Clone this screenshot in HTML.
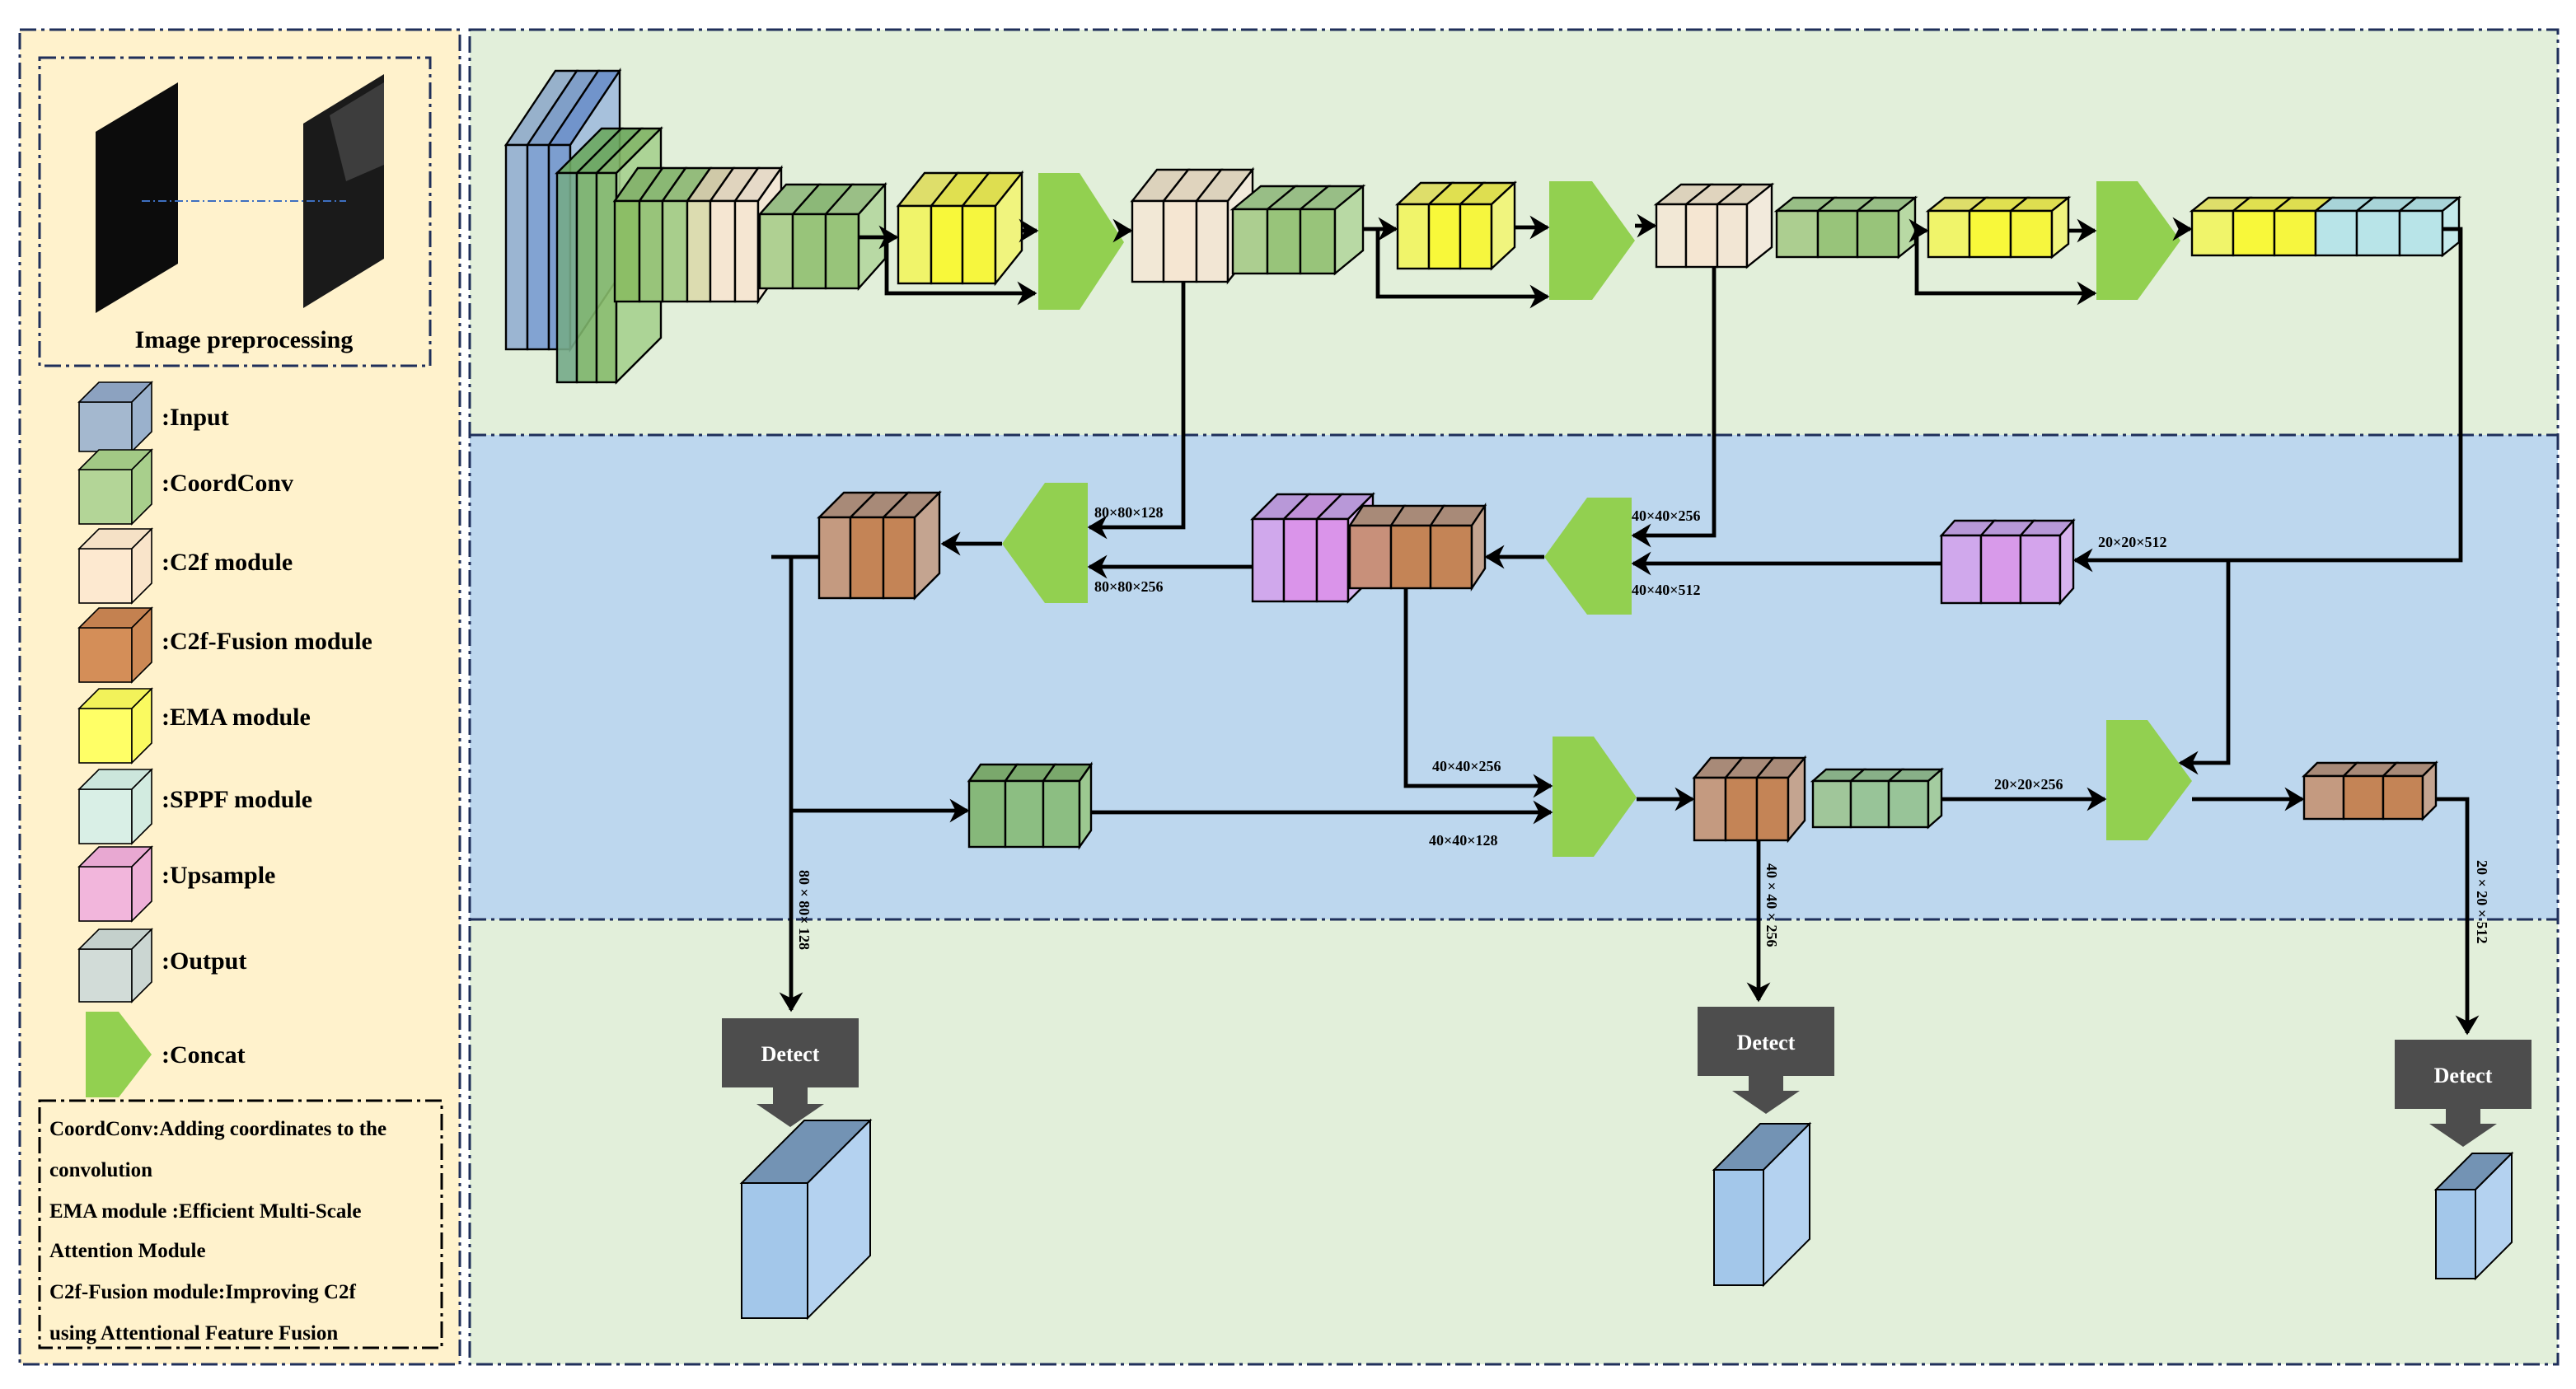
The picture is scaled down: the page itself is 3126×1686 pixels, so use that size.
<!DOCTYPE html>
<html><head><meta charset="utf-8"><style>html,body{margin:0;padding:0;background:#fff}svg{display:block}</style></head>
<body>
<svg width="3126" height="1686" viewBox="0 0 1563 843" xmlns="http://www.w3.org/2000/svg" font-family="'Liberation Serif',serif" font-weight="bold">
<defs>
<marker id="ar" markerWidth="6" markerHeight="6" refX="4.5" refY="3" orient="auto" markerUnits="strokeWidth"><path d="M0,0 L5,3 L0,6 L1.5,3 Z" fill="#000"/></marker>
</defs>
<rect width="1563" height="843" fill="#fff"/>
<!-- left panel -->
<rect x="12" y="18" width="267" height="810" fill="#fff2cc" stroke="#1f2f5a" stroke-width="1.5" stroke-dasharray="10,3,2,3"/>
<rect x="24" y="35" width="237" height="187" fill="#fff2cc" stroke="#1f2f5a" stroke-width="1.5" stroke-dasharray="10,3,2,3"/>
<polygon points="58,80 108,50 108,160 58,190" fill="#0c0c0c"/>
<polygon points="184,75 233,45 233,157 184,187" fill="#1a1a1a"/>
<polygon points="200,70 233,50 233,100 210,110" fill="#555" opacity="0.6"/>
<line x1="86" y1="122" x2="210" y2="122" stroke="#3d6fc0" stroke-width="1" stroke-dasharray="5,2,1,2"/>
<text x="148" y="211" font-size="15" text-anchor="middle">Image preprocessing</text>
<g stroke="#000" stroke-width="0.8">
<g><rect x="48" y="244" width="32" height="30" fill="#a4b8cf"/><polygon points="48,244 60,232 92,232 80,244" fill="#8ca2c0"/><polygon points="80,244 92,232 92,262 80,274" fill="#9ab1cc"/></g>
<g><rect x="48" y="285" width="32" height="33" fill="#b3d597"/><polygon points="48,285 60,273 92,273 80,285" fill="#a2c985"/><polygon points="80,285 92,273 92,306 80,318" fill="#a8cf8c"/></g>
<g><rect x="48" y="333" width="32" height="33" fill="#fde9d0"/><polygon points="48,333 60,321 92,321 80,333" fill="#f5e1c6"/><polygon points="80,333 92,321 92,354 80,366" fill="#f9e4ca"/></g>
<g><rect x="48" y="381" width="32" height="33" fill="#d48e58"/><polygon points="48,381 60,369 92,369 80,381" fill="#c48150"/><polygon points="80,381 92,369 92,402 80,414" fill="#cc8854"/></g>
<g><rect x="48" y="430" width="32" height="33" fill="#ffff66"/><polygon points="48,430 60,418 92,418 80,430" fill="#f2f25a"/><polygon points="80,430 92,418 92,451 80,463" fill="#fafa60"/></g>
<g><rect x="48" y="479" width="32" height="33" fill="#d9efe6"/><polygon points="48,479 60,467 92,467 80,479" fill="#cce6dc"/><polygon points="80,479 92,467 92,500 80,512" fill="#d2ebe0"/></g>
<g><rect x="48" y="526" width="32" height="33" fill="#f2b6dc"/><polygon points="48,526 60,514 92,514 80,526" fill="#e8a8d2"/><polygon points="80,526 92,514 92,547 80,559" fill="#eeb0d8"/></g>
<g><rect x="48" y="576" width="32" height="32" fill="#d2dcd8"/><polygon points="48,576 60,564 92,564 80,576" fill="#c4d0cc"/><polygon points="80,576 92,564 92,596 80,608" fill="#cbd6d2"/></g>
</g>
<polygon points="52,614 72,614 92,640 72,666 52,666" fill="#92d050"/>
<g font-size="15"><text x="98" y="258">:Input</text><text x="98" y="298">:CoordConv</text><text x="98" y="346">:C2f module</text><text x="98" y="394">:C2f-Fusion module</text><text x="98" y="440">:EMA module</text><text x="98" y="490">:SPPF module</text><text x="98" y="536">:Upsample</text><text x="98" y="588">:Output</text><text x="98" y="645">:Concat</text></g>
<rect x="24" y="668" width="244" height="150" fill="none" stroke="#000" stroke-width="1.5" stroke-dasharray="10,3,2,3"/>
<g font-size="12.5"><text x="30" y="689">CoordConv:Adding coordinates to the</text><text x="30" y="714">convolution</text><text x="30" y="739">EMA module :Efficient Multi-Scale</text><text x="30" y="763">Attention Module</text><text x="30" y="788">C2f-Fusion module:Improving C2f</text><text x="30" y="813">using Attentional Feature Fusion</text></g>
<!-- right panel -->
<rect x="285" y="18" width="1267" height="246" fill="#e2efda"/>
<rect x="285" y="264" width="1267" height="294" fill="#bdd7ee"/>
<rect x="285" y="558" width="1267" height="270" fill="#e2efda"/>
<line x1="285" y1="264" x2="1552" y2="264" stroke="#1f2f5a" stroke-width="1.5" stroke-dasharray="10,3,2,3"/>
<line x1="285" y1="558" x2="1552" y2="558" stroke="#1f2f5a" stroke-width="1.5" stroke-dasharray="10,3,2,3"/>
<rect x="285" y="18" width="1267" height="810" fill="none" stroke="#1f2f5a" stroke-width="1.5" stroke-dasharray="10,3,2,3"/>

<g stroke="#000" stroke-width="1.2">
<!-- blue input -->
<g fill-opacity="0.85">
<polygon points="307,88 337,43 350,43 320,88" fill="#8aa6c8"/><polygon points="320,88 350,43 363,43 333,88" fill="#6f90c4"/><polygon points="333,88 363,43 376,43 346,88" fill="#5d84c8"/>
<rect x="307" y="88" width="13" height="124" fill="#8eaad0"/><rect x="320" y="88" width="13" height="124" fill="#7195d0"/><rect x="333" y="88" width="13" height="124" fill="#6a8fcc"/>
<polygon points="346,88 376,43 376,167 346,212" fill="#9cb8dc"/>
</g>
<!-- green 2 -->
<g fill-opacity="0.9">
<polygon points="338,105 365,78 377,78 350,105" fill="#6da860"/><polygon points="350,105 377,78 389,78 362,105" fill="#6aa65a"/><polygon points="362,105 389,78 401,78 374,105" fill="#7eb262"/>
<rect x="338" y="105" width="12" height="127" fill="#75aa88"/><rect x="350" y="105" width="12" height="127" fill="#7db46a"/><rect x="362" y="105" width="12" height="127" fill="#86ba6a"/>
<polygon points="374,105 401,78 401,205 374,232" fill="#a6d08e"/>
</g>
<!-- block 3 -->
<polygon points="373,122 387,102 402,102 388,122" fill="#86b46e"/><polygon points="388,122 402,102 416,102 402,122" fill="#8ab874"/><polygon points="402,122 416,102 431,102 417,122" fill="#94bc7c"/>
<polygon points="417,122 431,102 445,102 431,122" fill="#cfc9a8"/><polygon points="431,122 445,102 460,102 446,122" fill="#e0d4be"/><polygon points="446,122 460,102 474,102 460,122" fill="#e6dac8"/>
<rect x="373" y="122" width="15" height="61" fill="#8cbe66"/><rect x="388" y="122" width="14" height="61" fill="#98c47a"/><rect x="402" y="122" width="15" height="61" fill="#a8ce8c"/>
<rect x="417" y="122" width="14" height="61" fill="#dcdcb0"/><rect x="431" y="122" width="15" height="61" fill="#f5e6d2"/><rect x="446" y="122" width="14" height="61" fill="#f5e6d2"/>
<polygon points="460,122 474,102 474,163 460,183" fill="#f3e8d6"/>
<!-- block 4 green -->
<polygon points="461,130 477,112 497,112 481,130" fill="#98be86"/><polygon points="481,130 497,112 517,112 501,130" fill="#8cb878"/><polygon points="501,130 517,112 537,112 521,130" fill="#9abf86"/>
<rect x="461" y="130" width="20" height="45" fill="#afd092"/><rect x="481" y="130" width="20" height="45" fill="#98c47a"/><rect x="501" y="130" width="20" height="45" fill="#98c47a"/>
<polygon points="521,130 537,112 537,157 521,175" fill="#b8d9a4"/>
<!-- yellow 5 -->
<polygon points="545,125 561,105 581,105 565,125" fill="#dede6a"/><polygon points="565,125 581,105 600,105 584,125" fill="#e0e050"/><polygon points="584,125 600,105 620,105 604,125" fill="#dede50"/>
<rect x="545" y="125" width="20" height="47" fill="#f0f46a"/><rect x="565" y="125" width="19" height="47" fill="#f8f83a"/><rect x="584" y="125" width="20" height="47" fill="#f6f63e"/>
<polygon points="604,125 620,105 620,152 604,172" fill="#f0f47e"/>
<!-- beige 7 -->
<polygon points="687,122 702,103 721,103 706,122" fill="#dcd2bc"/><polygon points="706,122 721,103 741,103 726,122" fill="#e0d4be"/><polygon points="726,122 741,103 760,103 745,122" fill="#dcd2bc"/>
<rect x="687" y="122" width="19" height="49" fill="#f2e8d6"/><rect x="706" y="122" width="20" height="49" fill="#f5e6d2"/><rect x="726" y="122" width="19" height="49" fill="#f2e6d4"/>
<polygon points="745,122 760,103 760,152 745,171" fill="#f2eadc"/>
<!-- green 8 -->
<polygon points="748,127 765,113 786,113 769,127" fill="#98be86"/><polygon points="769,127 786,113 806,113 789,127" fill="#98be86"/><polygon points="789,127 806,113 827,113 810,127" fill="#98be86"/>
<rect x="748" y="127" width="21" height="39" fill="#acce90"/><rect x="769" y="127" width="20" height="39" fill="#98c47a"/><rect x="789" y="127" width="21" height="39" fill="#98c47a"/>
<polygon points="810,127 827,113 827,152 810,166" fill="#b8d9a4"/>
<!-- yellow 9 -->
<polygon points="848,124 862,111 881,111 867,124" fill="#dede6a"/><polygon points="867,124 881,111 900,111 886,124" fill="#e0e050"/><polygon points="886,124 900,111 919,111 905,124" fill="#dede50"/>
<rect x="848" y="124" width="19" height="39" fill="#f0f46a"/><rect x="867" y="124" width="19" height="39" fill="#f8f83a"/><rect x="886" y="124" width="19" height="39" fill="#f6f63e"/>
<polygon points="905,124 919,111 919,150 905,163" fill="#f0f47e"/>
<!-- beige 11 -->
<polygon points="1005,124 1020,112 1038,112 1023,124" fill="#dcd2bc"/><polygon points="1023,124 1038,112 1057,112 1042,124" fill="#e0d4be"/><polygon points="1042,124 1057,112 1075,112 1060,124" fill="#dcd2bc"/>
<rect x="1005" y="124" width="18" height="38" fill="#f2e8d6"/><rect x="1023" y="124" width="19" height="38" fill="#f5e6d2"/><rect x="1042" y="124" width="18" height="38" fill="#f2e6d4"/>
<polygon points="1060,124 1075,112 1075,150 1060,162" fill="#f2eadc"/>
<!-- green 12 -->
<polygon points="1078,128 1088,120 1113,120 1103,128" fill="#98be86"/><polygon points="1103,128 1113,120 1137,120 1127,128" fill="#98be86"/><polygon points="1127,128 1137,120 1162,120 1152,128" fill="#98be86"/>
<rect x="1078" y="128" width="25" height="28" fill="#acce90"/><rect x="1103" y="128" width="24" height="28" fill="#98c47a"/><rect x="1127" y="128" width="25" height="28" fill="#98c47a"/>
<polygon points="1152,128 1162,120 1162,148 1152,156" fill="#b8d9a4"/>
<!-- yellow 13 -->
<polygon points="1170,128 1180,120 1205,120 1195,128" fill="#dede6a"/><polygon points="1195,128 1205,120 1230,120 1220,128" fill="#e0e050"/><polygon points="1220,128 1230,120 1255,120 1245,128" fill="#dede50"/>
<rect x="1170" y="128" width="25" height="28" fill="#f0f46a"/><rect x="1195" y="128" width="25" height="28" fill="#f8f83a"/><rect x="1220" y="128" width="25" height="28" fill="#f6f63e"/>
<polygon points="1245,128 1255,120 1255,148 1245,156" fill="#f0f47e"/>
<!-- yellow + cyan 15 -->
<polygon points="1330,128 1340,120 1365,120 1355,128" fill="#dede6a"/><polygon points="1355,128 1365,120 1390,120 1380,128" fill="#e0e050"/><polygon points="1380,128 1390,120 1415,120 1405,128" fill="#dede50"/>
<polygon points="1405,128 1415,120 1440,120 1430,128" fill="#a8d4d8"/><polygon points="1430,128 1440,120 1466,120 1456,128" fill="#a8d4d8"/><polygon points="1456,128 1466,120 1492,120 1482,128" fill="#a8d4d8"/>
<rect x="1330" y="128" width="25" height="27" fill="#f0f46a"/><rect x="1355" y="128" width="25" height="27" fill="#f8f83a"/><rect x="1380" y="128" width="25" height="27" fill="#f6f63e"/>
<rect x="1405" y="128" width="25" height="27" fill="#b8e4e8"/><rect x="1430" y="128" width="26" height="27" fill="#b8e4e8"/><rect x="1456" y="128" width="26" height="27" fill="#b8e4e8"/>
<polygon points="1482,128 1492,120 1492,147 1482,155" fill="#c4eaec"/>

<!-- pink upsample -->
<polygon points="1178,325 1186,316 1210,316 1202,325" fill="#b898d8"/><polygon points="1202,325 1210,316 1234,316 1226,325" fill="#b898d8"/><polygon points="1226,325 1234,316 1258,316 1250,325" fill="#b898d8"/>
<rect x="1178" y="325" width="24" height="41" fill="#d0a8ec"/><rect x="1202" y="325" width="24" height="41" fill="#d89aea"/><rect x="1226" y="325" width="24" height="41" fill="#d4a4ec"/>
<polygon points="1250,325 1258,316 1258,357 1250,366" fill="#d8b4ee"/>
<!-- pink B -->
<polygon points="760,315 775,300 794,300 779,315" fill="#b898d8"/><polygon points="779,315 794,300 814,300 799,315" fill="#c090d8"/><polygon points="799,315 814,300 833,300 818,315" fill="#b898d8"/>
<rect x="760" y="315" width="19" height="50" fill="#d0a8ec"/><rect x="779" y="315" width="20" height="50" fill="#da94ea"/><rect x="799" y="315" width="19" height="50" fill="#da94ea"/>
<polygon points="818,315 833,300 833,350 818,365" fill="#d8b4ee"/>
<!-- brown A -->
<polygon points="819,319 827,307 852,307 844,319" fill="#a88a78"/><polygon points="844,319 852,307 876,307 868,319" fill="#a88a78"/><polygon points="868,319 876,307 901,307 893,319" fill="#a88a78"/>
<rect x="819" y="319" width="25" height="38" fill="#c8907a"/><rect x="844" y="319" width="24" height="38" fill="#c48456"/><rect x="868" y="319" width="25" height="38" fill="#c48456"/>
<polygon points="893,319 901,307 901,345 893,357" fill="#c4a490"/>
<!-- brown C -->
<polygon points="497,314 512,299 531,299 516,314" fill="#a88a78"/><polygon points="516,314 531,299 551,299 536,314" fill="#a88a78"/><polygon points="536,314 551,299 570,299 555,314" fill="#a88a78"/>
<rect x="497" y="314" width="19" height="49" fill="#c49a80"/><rect x="516" y="314" width="20" height="49" fill="#c48456"/><rect x="536" y="314" width="19" height="49" fill="#c48456"/>
<polygon points="555,314 570,299 570,348 555,363" fill="#c4a490"/>
<!-- green D -->
<polygon points="588,474 595,464 617,464 610,474" fill="#7aa86c"/><polygon points="610,474 617,464 640,464 633,474" fill="#7aa86c"/><polygon points="633,474 640,464 662,464 655,474" fill="#7aa86c"/>
<rect x="588" y="474" width="22" height="40" fill="#86b87a"/><rect x="610" y="474" width="23" height="40" fill="#8cbe82"/><rect x="633" y="474" width="22" height="40" fill="#8cbe82"/>
<polygon points="655,474 662,464 662,504 655,514" fill="#9cc890"/>
<!-- brown E -->
<polygon points="1028,472 1038,460 1057,460 1047,472" fill="#a88a78"/><polygon points="1047,472 1057,460 1076,460 1066,472" fill="#a88a78"/><polygon points="1066,472 1076,460 1095,460 1085,472" fill="#a88a78"/>
<rect x="1028" y="472" width="19" height="38" fill="#c49a80"/><rect x="1047" y="472" width="19" height="38" fill="#c48456"/><rect x="1066" y="472" width="19" height="38" fill="#c48456"/>
<polygon points="1085,472 1095,460 1095,498 1085,510" fill="#c4a490"/>
<!-- green F -->
<polygon points="1100,474 1108,467 1131,467 1123,474" fill="#88b088"/><polygon points="1123,474 1131,467 1154,467 1146,474" fill="#88b088"/><polygon points="1146,474 1154,467 1178,467 1170,474" fill="#88b088"/>
<rect x="1100" y="474" width="23" height="28" fill="#9cc490" fill-opacity="0.9"/><rect x="1123" y="474" width="23" height="28" fill="#98c498"/><rect x="1146" y="474" width="24" height="28" fill="#98c498"/>
<polygon points="1170,474 1178,467 1178,495 1170,502" fill="#a4cca0"/>
<!-- brown G -->
<polygon points="1398,471 1406,463 1430,463 1422,471" fill="#a88a78"/><polygon points="1422,471 1430,463 1454,463 1446,471" fill="#a88a78"/><polygon points="1446,471 1454,463 1478,463 1470,471" fill="#a88a78"/>
<rect x="1398" y="471" width="24" height="26" fill="#c49a80"/><rect x="1422" y="471" width="24" height="26" fill="#c48456"/><rect x="1446" y="471" width="24" height="26" fill="#c48456"/>
<polygon points="1470,471 1478,463 1478,489 1470,497" fill="#c4a490"/>
</g>

<!-- concats -->
<g fill="#92d050">
<polygon points="630,105 655,105 682,147 655,188 630,188"/>
<polygon points="940,110 966,110 992,146 966,182 940,182"/>
<polygon points="1272,110 1297,110 1323,146 1297,182 1272,182"/>
<polygon points="990,302 963,302 937,338 963,373 990,373"/>
<polygon points="660,293 634,293 608,330 634,366 660,366"/>
<polygon points="942,447 967,447 993,484 967,520 942,520"/>
<polygon points="1278,437 1303,437 1330,474 1303,510 1278,510"/>
</g>

<!-- connectors -->
<g stroke="#000" stroke-width="2.4" fill="none" marker-end="url(#ar)">
<line x1="521" y1="144" x2="544" y2="144"/>
<polyline points="538,144 538,178 628,178"/>
<line x1="620" y1="140" x2="629" y2="140"/>
<line x1="682" y1="140" x2="686" y2="140"/>
<line x1="827" y1="139" x2="847" y2="139"/>
<polyline points="836,139 836,180 939,180"/>
<line x1="919" y1="138" x2="939" y2="138"/>
<line x1="992" y1="137" x2="1004" y2="137"/>
<line x1="1162" y1="140" x2="1169" y2="140"/>
<polyline points="1163,140 1163,178 1271,178"/>
<line x1="1255" y1="140" x2="1271" y2="140"/>
<line x1="1323" y1="139" x2="1329" y2="139"/>
<polyline points="1482,139 1493,139 1493,340 1259,340"/>
<polyline points="1178,342 991,342"/>
<polyline points="1040,162 1040,325 991,325"/>
<polyline points="718,171 718,320 661,320"/>
<line x1="937" y1="338" x2="902" y2="338"/>
<line x1="760" y1="344" x2="661" y2="344"/>
<line x1="608" y1="330" x2="572" y2="330"/>
<polyline points="480,338 480,613"/>
<line x1="480" y1="492" x2="587" y2="492"/>
<line x1="662" y1="493" x2="941" y2="493"/>
<polyline points="853,357 853,477 941,477"/>
<line x1="993" y1="485" x2="1027" y2="485"/>
<line x1="1178" y1="485" x2="1277" y2="485"/>
<polyline points="1352,340 1352,463 1323,463"/>
<line x1="1330" y1="485" x2="1397" y2="485"/>
<polyline points="1478,485 1497,485 1497,627"/>
<line x1="1067" y1="510" x2="1067" y2="607"/>
</g>
<line x1="468" y1="338" x2="497" y2="338" stroke="#000" stroke-width="2.4"/>

<!-- labels -->
<g font-size="9">
<text x="664" y="314">80×80×128</text><text x="664" y="359">80×80×256</text>
<text x="990" y="316">40×40×256</text><text x="990" y="361">40×40×512</text>
<text x="1273" y="332">20×20×512</text>
<text x="869" y="468">40×40×256</text><text x="867" y="513">40×40×128</text>
<text x="1210" y="479">20×20×256</text>
<text transform="translate(485,528) rotate(90)">80 × 80× 128</text>
<text transform="translate(1072,524) rotate(90)">40 × 40 × 256</text>
<text transform="translate(1503,522) rotate(90)">20 × 20 × 512</text>
</g>

<!-- detect -->
<g>
<rect x="438" y="618" width="83" height="42" fill="#4d4d4d"/><text x="479.5" y="644" font-size="13" fill="#fff" text-anchor="middle">Detect</text>
<polygon points="469,660 490,660 490,670 500,670 479.5,684 459,670 469,670" fill="#4d4d4d"/>
<rect x="1030" y="611" width="83" height="42" fill="#4d4d4d"/><text x="1071.5" y="637" font-size="13" fill="#fff" text-anchor="middle">Detect</text>
<polygon points="1061,653 1082,653 1082,662 1092,662 1071.5,676 1051,662 1061,662" fill="#4d4d4d"/>
<rect x="1453" y="631" width="83" height="42" fill="#4d4d4d"/><text x="1494.5" y="657" font-size="13" fill="#fff" text-anchor="middle">Detect</text>
<polygon points="1484,673 1505,673 1505,682 1515,682 1494.5,696 1474,682 1484,682" fill="#4d4d4d"/>
</g>
<g stroke="#000" stroke-width="1">
<polygon points="450,718 488,680 528,680 490,718" fill="#7393b4"/><rect x="450" y="718" width="40" height="82" fill="#a3c7ea"/><polygon points="490,718 528,680 528,762 490,800" fill="#b4d2f0"/>
<polygon points="1040,710 1068,682 1098,682 1070,710" fill="#7393b4"/><rect x="1040" y="710" width="30" height="70" fill="#a3c7ea"/><polygon points="1070,710 1098,682 1098,752 1070,780" fill="#b4d2f0"/>
<polygon points="1478,722 1500,700 1524,700 1502,722" fill="#7393b4"/><rect x="1478" y="722" width="24" height="54" fill="#a3c7ea"/><polygon points="1502,722 1524,700 1524,754 1502,776" fill="#b4d2f0"/>
</g>
</svg>
</body></html>
